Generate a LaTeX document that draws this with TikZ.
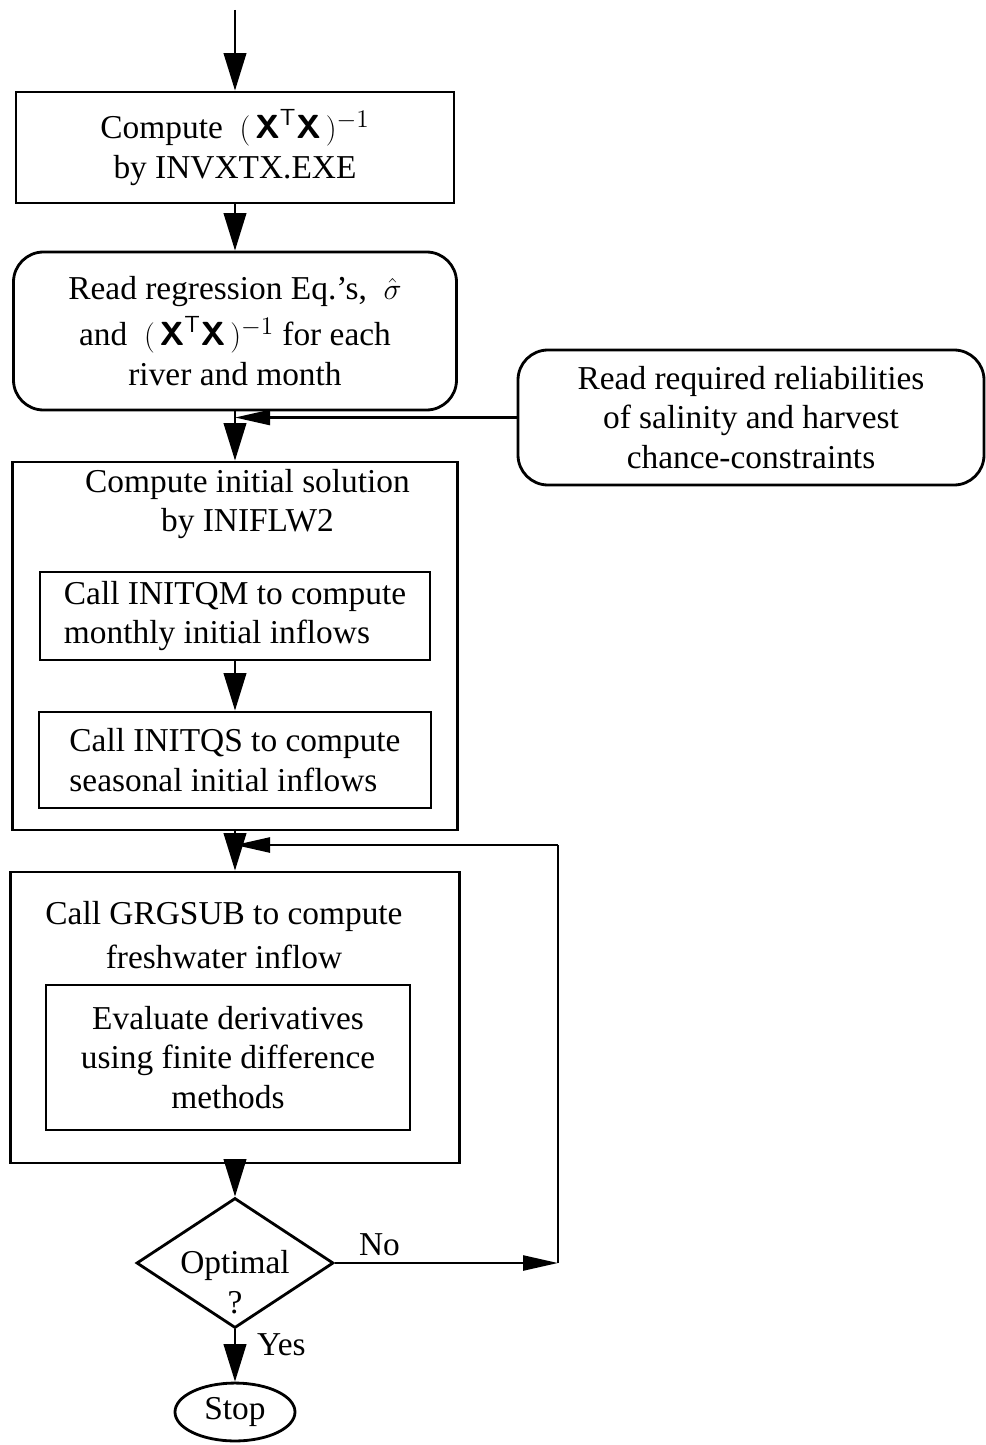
\documentclass[tikz,border=0pt]{standalone}
\usepackage{amsmath}
\usepackage{fontspec}
\setmainfont{Liberation Serif}
\usetikzlibrary{positioning, shapes.geometric, arrows.meta}
\newcommand{\xtxinv}{$(\,\textsf{\textbf{X}}^{\mathsf{T}}\textsf{\textbf{X}}\,)^{-1}$}

\begin{document}
\begin{tikzpicture}[node distance=3cm, every node/.style={font=\fontsize{19}{22.5}\selectfont}]
    \tikzstyle{block} = [draw, rectangle, align=center, line width=1.6pt, inner sep=2pt]
    \tikzstyle{rblock} = [draw, rectangle, align=center, rounded corners=0.6cm, line width=1.6pt]
    \tikzstyle{arrow} = [line width=1.4pt, -{Triangle[length=0.75cm, width=0.45cm]}]
    \tikzstyle{harrow} = [line width=1.4pt, -{Triangle[length=0.7cm, width=0.3cm]}]
    \tikzstyle{line} = [line width=1.4pt]

    \useasboundingbox (0,0) rectangle (19.72,-28.9);

    % Nodes
    \node (invxtx) [block, minimum width=8.76cm, minimum height=2.22cm] at (4.7,-2.95) {Compute \ \xtxinv\\ by INVXTX.EXE};
    \node (readeq) [rblock, below of=invxtx, node distance=3.67cm, minimum width=8.86cm, minimum height=3.16cm] {Read regression Eq.'s, \ $\hat{\sigma}$\\[4pt] and \ \xtxinv\ for each\\ river and month};
    \node (readrel) [rblock, minimum width=9.32cm, minimum height=2.7cm] at (15.02,-8.35) {Read required reliabilities\\ of salinity and harvest\\ chance-constraints};
    \node (compinit) [block, below of=readeq, node distance=6.3cm, minimum width=8.9cm, minimum height=7.36cm] {};
    \node (initlabel) [above of=compinit, node distance=2.84cm, xshift=0.25cm, align=center] {Compute initial solution\\ by INIFLW2};
    \node (initqm) [block, align=left, above of=compinit, node distance=0.6cm, minimum width=7.8cm, minimum height=1.76cm] {Call INITQM to compute\\ monthly initial inflows};
    \node (initqs) [block, align=left, below of=initqm, node distance=2.88cm, minimum width=7.84cm, minimum height=1.92cm] {Call INITQS to compute\\ seasonal initial inflows};
    \node (grgsub) [block, below of=compinit, node distance=7.43cm, minimum width=8.98cm, minimum height=5.82cm] {};
    \node (grglabel) [above of=grgsub, node distance=1.65cm, xshift=-0.22cm, align=center] {Call GRGSUB to compute\\[3pt] freshwater inflow};
    \node (evalderiv) [block, below of=grgsub, node distance=0.8cm, xshift=-0.14cm, minimum width=7.28cm, minimum height=2.9cm] {Evaluate derivatives\\ using finite difference\\ methods};
    \node (optimal) [draw, diamond, aspect=1.52, line width=1.6pt, inner sep=0pt, below of=grgsub, node distance=4.91cm, minimum width=3.94cm, minimum height=2.6cm, label={[align=center, yshift=-0.38cm]center:Optimal\\ ?}] {};
    \node (stop) [draw, ellipse, line width=1.6pt, below of=optimal, node distance=2.98cm, minimum width=2.4cm, minimum height=1.1cm] {Stop};
    \coordinate [above of=invxtx, node distance=2.75cm] (start);
    \coordinate [right of=optimal, node distance=6.46cm] (noend);
    \coordinate [above of=noend, node distance=8.36cm] (loop);

    % Arrows
    \draw [arrow] (start) -- (invxtx);
    \draw [arrow] (invxtx) -- (readeq);
    \draw [arrow] (readeq) -- (compinit);
    \draw [harrow] (readrel) -- (readrel -| compinit);
    \draw [arrow] (initqm) -- (initqs);
    \draw [arrow] (compinit) -- (grgsub);
    \draw [line] (noend) -- (loop);
    \draw [harrow] (loop) -- (loop -| grgsub);
    \draw [arrow] (grgsub) -- (optimal);
    \draw [harrow] (optimal) -- node [above, pos=0.2] {No} (noend);
    \draw [arrow] (optimal) -- node [right, pos=0.3, xshift=0.3cm] {Yes} (stop);
\end{tikzpicture}
\end{document}
